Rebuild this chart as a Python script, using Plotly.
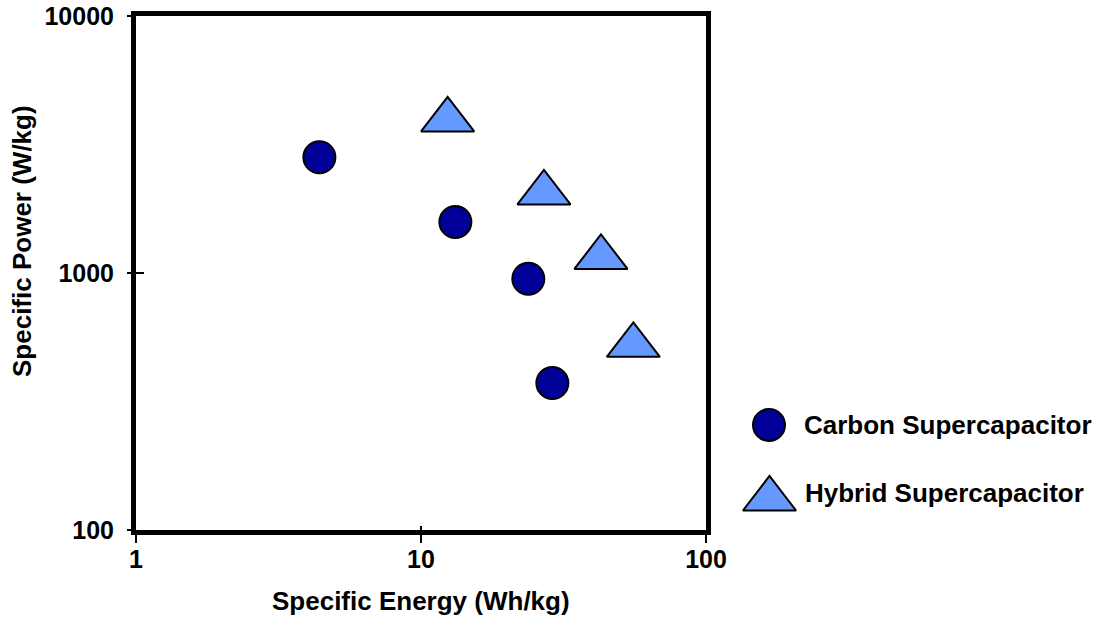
import plotly.graph_objects as go

# ---- data ----
carbon_energy = [4.4, 13.2, 23.8, 28.9]      # Wh/kg
carbon_power = [2820, 1580, 950, 373]        # W/kg
hybrid_energy = [12.4, 27.0, 42.8, 55.6]     # Wh/kg
hybrid_power = [3940, 2050, 1150, 523]       # W/kg
series_names = ["Carbon Supercapacitor", "Hybrid Supercapacitor"]
x_tick_vals = [1, 10, 100]
x_tick_text = ["1", "10", "100"]
y_tick_vals = [100, 1000, 10000]
y_tick_text = ["100", "1000", "10000"]
x_title = "Specific Energy (Wh/kg)"
y_title = "Specific Power (W/kg)"

# ---- layout geometry (pixels) ----
FIG_W, FIG_H = 1099, 620
M_L, M_R, M_T, M_B = 136, 5, 16, 90
PLOT_W = FIG_W - M_L - M_R
PLOT_H = FIG_H - M_T - M_B
MAIN_RIGHT_PX = 706


def paper_x(px):
    return (px - M_L) / PLOT_W


def paper_y(py):
    return (FIG_H - M_B - py) / PLOT_H


FONT = "Arial, 'Liberation Sans', sans-serif"
CIRCLE_FILL = "#000099"
TRI_FILL = "#6699FF"
CIRCLE_SIZE = 32
TRI_SIZE = 46
LINE_W = 5

fig = go.Figure()

fig.add_trace(go.Scatter(
    x=carbon_energy, y=carbon_power, mode="markers", name=series_names[0],
    marker=dict(symbol="circle", size=CIRCLE_SIZE, color=CIRCLE_FILL,
                line=dict(color="black", width=2)),
    showlegend=False, cliponaxis=False,
))
fig.add_trace(go.Scatter(
    x=hybrid_energy, y=hybrid_power, mode="markers", name=series_names[1],
    marker=dict(symbol="triangle-up", size=TRI_SIZE, color=TRI_FILL,
                line=dict(color="black", width=2)),
    showlegend=False, cliponaxis=False,
))
# empty traces so the overlay tick axes (outer tick halves) are drawn
fig.add_trace(go.Scatter(x=[], y=[], xaxis="x3", yaxis="y", showlegend=False, hoverinfo="skip"))
fig.add_trace(go.Scatter(x=[], y=[], xaxis="x", yaxis="y3", showlegend=False, hoverinfo="skip"))

# ---- custom legend keys on a pixel-mapped overlay axis ----
legend_key_x = [769, 769.5]
legend_key_y = [425, 499]
fig.add_trace(go.Scatter(
    x=[legend_key_x[0]], y=[legend_key_y[0]], mode="markers", xaxis="x2", yaxis="y2",
    marker=dict(symbol="circle", size=CIRCLE_SIZE, color=CIRCLE_FILL,
                line=dict(color="black", width=2)),
    showlegend=False, hoverinfo="skip", cliponaxis=False,
))
fig.add_trace(go.Scatter(
    x=[legend_key_x[1]], y=[legend_key_y[1]], mode="markers", xaxis="x2", yaxis="y2",
    marker=dict(symbol="triangle-up", size=TRI_SIZE, color=TRI_FILL,
                line=dict(color="black", width=2)),
    showlegend=False, hoverinfo="skip", cliponaxis=False,
))

axis_common = dict(
    type="log", showline=True, linewidth=LINE_W, linecolor="black",
    tickwidth=2, tickcolor="black",
    showgrid=False, zeroline=False, automargin=False,
    tickfont=dict(family=FONT, size=25, color="black", weight="bold"),
)
x_dom = [0, paper_x(MAIN_RIGHT_PX)]

annotations = [
    dict(text=x_title, x=paper_x(421), y=paper_y(601), xref="paper", yref="paper",
         xanchor="center", yanchor="middle", showarrow=False,
         font=dict(family=FONT, size=26, color="black", weight="bold")),
    dict(text=y_title, x=paper_x(22), y=paper_y(241), xref="paper", yref="paper",
         xanchor="center", yanchor="middle", showarrow=False, textangle=-90,
         font=dict(family=FONT, size=26, color="black", weight="bold")),
    dict(text=series_names[0], x=paper_x(802), y=paper_y(425), xref="paper", yref="paper",
         xanchor="left", yanchor="middle", showarrow=False,
         font=dict(family=FONT, size=26, color="black", weight="bold")),
    dict(text=series_names[1], x=paper_x(803), y=paper_y(493), xref="paper", yref="paper",
         xanchor="left", yanchor="middle", showarrow=False,
         font=dict(family=FONT, size=26, color="black", weight="bold")),
]

fig.update_layout(
    width=FIG_W, height=FIG_H, autosize=False,
    margin=dict(l=M_L, r=M_R, t=M_T, b=M_B, pad=0, autoexpand=False),
    paper_bgcolor="white", plot_bgcolor="rgba(0,0,0,0)",
    showlegend=False,
    xaxis=dict(axis_common, range=[0, 2], domain=x_dom, mirror=True,
               tickvals=x_tick_vals, ticktext=x_tick_text,
               ticks="inside", ticklen=4, ticklabelstandoff=3),
    yaxis=dict(axis_common, range=[2, 4], domain=[0, 1], mirror=True,
               tickvals=y_tick_vals, ticktext=y_tick_text,
               ticks="inside", ticklen=8, ticklabelstandoff=12),
    xaxis3=dict(axis_common, range=[0, 2], domain=x_dom, overlaying="x", anchor="y",
                side="bottom", tickvals=x_tick_vals, showticklabels=False,
                ticks="outside", ticklen=8),
    yaxis3=dict(axis_common, range=[2, 4], domain=[0, 1], overlaying="y", anchor="x",
                side="left", tickvals=y_tick_vals, showticklabels=False,
                ticks="outside", ticklen=4),
    xaxis2=dict(domain=[0, 1], range=[M_L, FIG_W - M_R], visible=False, anchor="y2"),
    yaxis2=dict(domain=[0, 1], range=[FIG_H - M_B, M_T], visible=False, anchor="x2"),
    annotations=annotations,
)

fig.write_html("out.html",
               config={"displayModeBar": False, "responsive": False},
               post_script="document.body.style.margin='0';document.body.style.overflow='hidden';")
